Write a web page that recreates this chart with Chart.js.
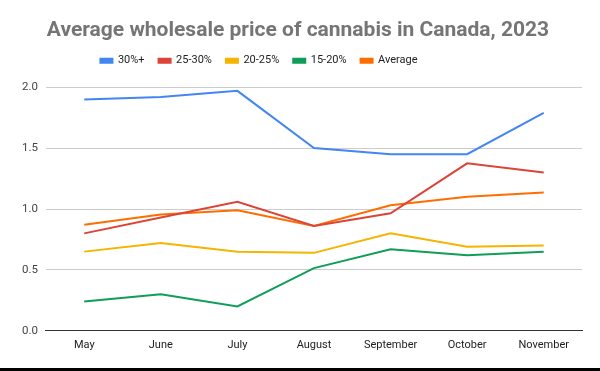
<!DOCTYPE html>
<html>
<head>
<meta charset="utf-8">
<script src="https://cdn.jsdelivr.net/npm/chart.js@4"></script>
<style>
  html, body { margin: 0; padding: 0; background: #fff; }
  #wrap { width: 600px; height: 368px; position: relative; }
  #strip { width: 600px; height: 3px; background: #000; }
</style>
</head>
<body>
<div id="wrap"><canvas id="chart"></canvas></div>
<div id="strip"></div>
<script>
const months = ["May", "June", "July", "August", "September", "October", "November"];
const over30 = [1.90, 1.92, 1.97, 1.50, 1.45, 1.45, 1.79];
const from25to30 = [0.80, 0.93, 1.06, 0.86, 0.965, 1.375, 1.30];
const from20to25 = [0.65, 0.72, 0.65, 0.64, 0.80, 0.69, 0.70];
const from15to20 = [0.24, 0.30, 0.20, 0.515, 0.67, 0.62, 0.65];
const average = [0.87, 0.955, 0.99, 0.86, 1.03, 1.10, 1.135];
const yTicks = [0, 0.5, 1.0, 1.5, 2.0];

const line = (label, data, color) => ({
  label: label,
  data: data,
  borderColor: color,
  backgroundColor: color,
  borderWidth: 2,
  pointRadius: 0,
  tension: 0,
});

// extra room under the legend, and legend sits a bit left of centre
const legendTweak = {
  id: "legendTweak",
  beforeInit(chart) {
    const fit = chart.legend.fit;
    chart.legend.fit = function () {
      fit.bind(chart.legend)();
      this.height += 11;
    };
  },
  afterLayout(chart) {
    chart.legend.right -= 78;
  },
};

new Chart(document.getElementById("chart"), {
  type: "line",
  data: {
    labels: months,
    datasets: [
      line("30%+", over30, "#4285F4"),
      line("25-30%", from25to30, "#DB4437"),
      line("20-25%", from20to25, "#F4B400"),
      line("15-20%", from15to20, "#0F9D58"),
      line("Average", average, "#FF6D01"),
    ],
  },
  plugins: [legendTweak],
  options: {
    responsive: true,
    maintainAspectRatio: false,
    animation: false,
    layout: { padding: { left: 14, right: 18, top: 0, bottom: 16 } },
    plugins: {
      title: {
        display: true,
        text: "Average wholesale price of cannabis in Canada, 2023",
        color: "#757575",
        font: { family: "Roboto", size: 21, weight: "bold" },
        padding: { top: 18, bottom: -2 },
      },
      legend: {
        labels: {
          boxWidth: 12,
          boxHeight: 4,
          padding: 14,
          color: "#222",
          font: { family: "Roboto", size: 11 },
        },
      },
      tooltip: { enabled: false },
    },
    scales: {
      x: {
        offset: true,
        grid: { display: false },
        border: { color: "#333" },
        ticks: { color: "#222", font: { family: "Roboto", size: 11 }, padding: 0 },
      },
      y: {
        min: 0,
        max: 2,
        afterBuildTicks: (axis) => { axis.ticks = yTicks.map((v) => ({ value: v })); },
        grid: { color: "#ccc", drawTicks: false },
        border: { display: false },
        ticks: {
          color: "#444",
          font: { family: "Roboto", size: 11.5 },
          padding: 8,
          callback: (v) => Number(v).toFixed(1),
        },
      },
    },
  },
});
</script>
</body>
</html>
